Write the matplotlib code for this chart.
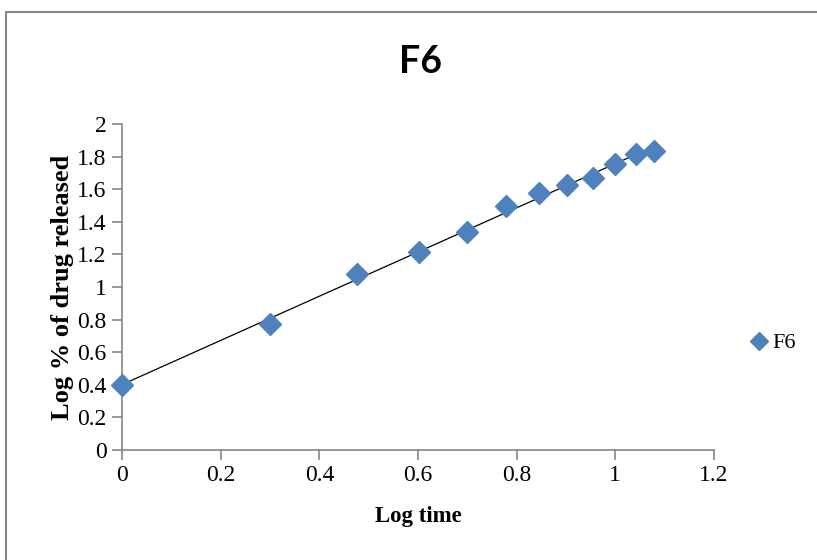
import matplotlib.pyplot as plt
import numpy as np
from matplotlib.lines import Line2D
from matplotlib.patches import Rectangle

# log time vs log % of drug released, formulation F6
log_time = [0.0, 0.301, 0.477, 0.602, 0.699, 0.778, 0.845, 0.903, 0.954, 1.0, 1.041, 1.079]
log_release = [0.40, 0.77, 1.08, 1.215, 1.34, 1.50, 1.575, 1.625, 1.67, 1.755, 1.815, 1.835]

x_ticks = [0, 0.2, 0.4, 0.6, 0.8, 1, 1.2]
y_ticks = [0, 0.2, 0.4, 0.6, 0.8, 1, 1.2, 1.4, 1.6, 1.8, 2]

blue = '#4F81BD'
grey = '#868686'

fig = plt.figure(figsize=(8.17, 5.6), dpi=100)
# chart area border (runs off the right/bottom edge like the original)
fig.patches.append(Rectangle((6 / 817, -0.05), 1.2, (560 - 12) / 560 + 0.05,
                             transform=fig.transFigure, fill=False,
                             edgecolor=grey, linewidth=1.5))

ax = fig.add_axes([122 / 817, 110 / 560, (714 - 122) / 817, (450 - 124) / 560])

# linear trendline
slope, intercept = np.polyfit(log_time, log_release, 1)
xs = np.array([log_time[0], log_time[-1]])
ax.plot(xs, slope * xs + intercept, color='black', linewidth=0.9, zorder=2)
ax.plot(log_time, log_release, linestyle='none', marker='D', markersize=11,
        color=blue, zorder=3, clip_on=False)

ax.set_xlim(0, 1.2)
ax.set_ylim(0, 2)
ax.set_xticks(x_ticks)
ax.set_yticks(y_ticks)
ax.set_xticklabels([f'{t:g}' for t in x_ticks])
ax.set_yticklabels([f'{t:g}' for t in y_ticks])

for side in ['top', 'right']:
    ax.spines[side].set_visible(False)
for side in ['left', 'bottom']:
    ax.spines[side].set_color(grey)
    ax.spines[side].set_linewidth(1.2)
ax.tick_params(direction='out', length=7, width=1.2, color=grey,
               labelsize=17, pad=4)
for lbl in ax.get_xticklabels() + ax.get_yticklabels():
    lbl.set_fontfamily('Liberation Serif')

ax.set_xlabel('Log time', fontfamily='Liberation Serif', fontweight='bold',
              fontsize=16.5, labelpad=14)
ax.set_ylabel('Log % of drug released', fontfamily='Liberation Serif',
              fontweight='bold', fontsize=19, labelpad=2)

fig.text(420 / 817, 1 - 62 / 560, 'F6', fontfamily='Lato', fontweight='bold',
         fontsize=27, ha='center', va='center')

handle = Line2D([], [], linestyle='none', marker='D', markersize=9, color=blue)
fig.legend([handle], ['F6'], loc='center left', bbox_to_anchor=(726 / 817, 1 - 343 / 560),
           frameon=False, handletextpad=0.0, handlelength=1.2,
           prop={'family': 'Liberation Serif', 'size': 16})

fig.savefig('out.png', dpi=100)
